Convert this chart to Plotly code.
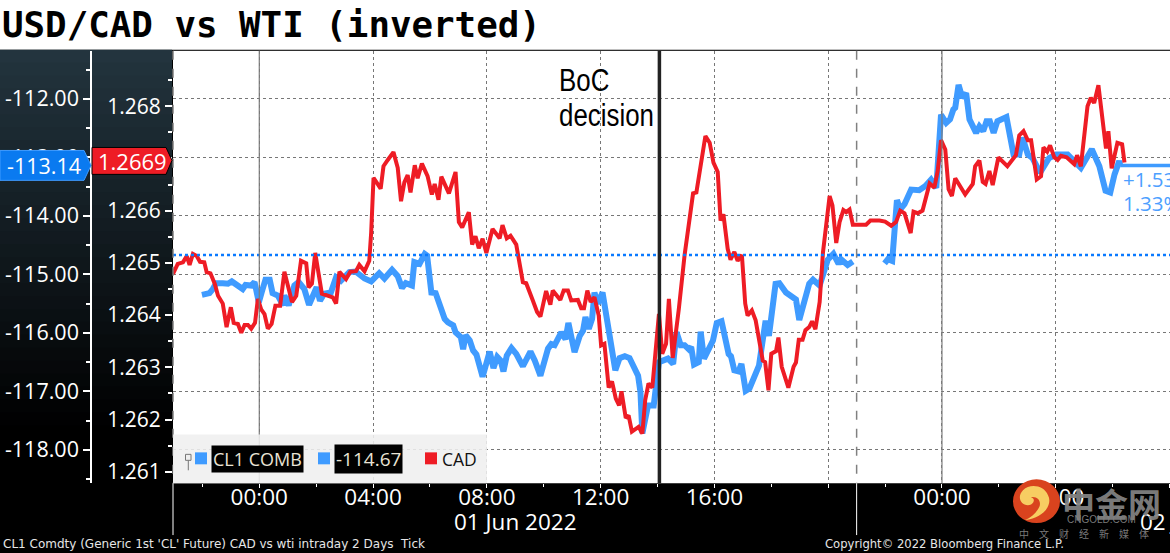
import pandas as pd
import plotly.graph_objects as go

W, H = 1170, 553
DAY0 = pd.Timestamp("2022-06-01")

# minutes from 00:00 on 01 Jun
cad_minutes = [-182, -172, -161, -153, -147, -140, -132, -125, -116, -111, -103, -94, -87, -77, -69, -60, -54, -45, -38, -31, -24, -17, -9, -3, 4, 11, 18, 26, 34, 44, 53, 69, 78, 88, 99, 104, 111, 118, 132, 148, 155, 162, 169, 183, 192, 204, 211, 222, 232, 236, 241, 256, 262, 271, 283, 292, 299, 306, 313, 319, 328, 334, 343, 355, 364, 370, 378, 384, 400, 414, 421, 428, 442, 449, 456, 463, 471, 479, 492, 507, 513, 522, 530, 542, 556, 563, 572, 577, 586, 593, 605, 614, 619, 635, 642, 651, 658, 672, 679, 685, 692, 699, 707, 716, 721, 728, 737, 744, 752, 759, 764, 773, 779, 786, 800, 808, 814, 821, 829, 843, 850, 858, 864, 872, 885, 897, 915, 922, 941, 950, 958, 967, 973, 979, 988, 994, 1002, 1009, 1018, 1025, 1030, 1039, 1047, 1062, 1067, 1074, 1080, 1090, 1095, 1102, 1116, 1127, 1132, 1138, 1146, 1152, 1160, 1166, 1173, 1182, 1189, 1203, 1209, 1217, 1224, 1232, 1238, 1245, 1252, 1280, 1289, 1308, 1320, 1333, 1343, 1352, 1361, 1374, 1380, 1389, 1399, 1414, 1424, 1431, 1438, 1447, 1454, 1461, 1468, 1478, 1489, 1505, 1510, 1519, 1526, 1532, 1540, 1547, 1559, 1578, 1596, 1603, 1612, 1621, 1628, 1640, 1649, 1654, 1662, 1668, 1677, 1684, 1691, 1703, 1719, 1725, 1733, 1747, 1754, 1761, 1770, 1786, 1791, 1798, 1810, 1820, 1825]
cad_values = [1.26479, 1.26498, 1.26501, 1.26513, 1.26496, 1.26517, 1.26513, 1.26502, 1.26501, 1.26482, 1.26480, 1.26460, 1.26437, 1.26422, 1.26377, 1.26415, 1.26385, 1.26383, 1.26366, 1.26381, 1.26381, 1.26374, 1.26385, 1.26431, 1.26411, 1.26402, 1.26374, 1.26383, 1.26418, 1.26418, 1.26483, 1.26425, 1.26437, 1.26504, 1.26499, 1.26453, 1.26460, 1.26519, 1.26441, 1.26436, 1.26434, 1.26422, 1.26483, 1.26469, 1.26483, 1.26484, 1.26496, 1.26484, 1.26504, 1.26558, 1.26663, 1.26642, 1.26685, 1.26697, 1.26712, 1.26682, 1.26618, 1.26654, 1.26668, 1.26635, 1.26687, 1.26662, 1.26690, 1.26666, 1.26631, 1.26651, 1.26621, 1.26665, 1.26633, 1.26674, 1.26578, 1.26568, 1.26597, 1.26535, 1.26551, 1.26528, 1.26546, 1.26519, 1.26565, 1.26547, 1.26572, 1.26547, 1.26552, 1.26535, 1.26463, 1.26461, 1.26436, 1.26428, 1.26406, 1.26397, 1.26446, 1.26420, 1.26447, 1.26429, 1.26447, 1.26447, 1.26428, 1.26429, 1.26413, 1.26413, 1.26447, 1.26425, 1.26434, 1.26399, 1.26342, 1.26345, 1.26261, 1.26273, 1.26240, 1.26227, 1.26254, 1.26203, 1.26208, 1.26177, 1.26186, 1.26173, 1.26237, 1.26269, 1.26261, 1.26402, 1.26326, 1.26345, 1.26431, 1.26318, 1.26412, 1.26514, 1.26633, 1.26635, 1.26743, 1.26730, 1.26692, 1.26674, 1.26581, 1.26593, 1.26527, 1.26506, 1.26521, 1.26504, 1.26515, 1.26422, 1.26399, 1.26409, 1.26390, 1.26313, 1.26310, 1.26256, 1.26326, 1.26331, 1.26357, 1.26301, 1.26261, 1.26301, 1.26309, 1.26353, 1.26353, 1.26371, 1.26377, 1.26388, 1.26373, 1.26425, 1.26520, 1.26628, 1.26610, 1.26538, 1.26578, 1.26601, 1.26597, 1.26602, 1.26573, 1.26573, 1.26581, 1.26581, 1.26579, 1.26571, 1.26578, 1.26600, 1.26595, 1.26557, 1.26598, 1.26595, 1.26600, 1.26652, 1.26644, 1.26676, 1.26735, 1.26717, 1.26641, 1.26628, 1.26662, 1.26647, 1.26631, 1.26651, 1.26685, 1.26696, 1.26655, 1.26651, 1.26676, 1.26649, 1.26702, 1.26685, 1.26706, 1.26744, 1.26752, 1.26735, 1.26735, 1.26660, 1.26666, 1.26721, 1.26713, 1.26725, 1.26702, 1.26697, 1.26705, 1.26702, 1.26689, 1.26706, 1.26685, 1.26800, 1.26816, 1.26806, 1.26840, 1.26719, 1.26752, 1.26681, 1.26730, 1.26727, 1.26692]

wti_minutes = [-121, -105, -98, -91, -77, -66, -58, -45, -35, -29, -17, -10, -1, 6, 13, 22, 28, 39, 50, 53, 62, 74, 83, 95, 105, 121, 128, 137, 151, 162, 172, 190, 203, 222, 236, 253, 264, 280, 292, 301, 309, 322, 327, 338, 349, 354, 358, 363, 372, 391, 398, 409, 414, 425, 430, 435, 444, 451, 458, 471, 486, 494, 502, 509, 515, 522, 532, 542, 556, 572, 581, 593, 609, 616, 623, 637, 646, 652, 665, 676, 683, 688, 695, 702, 707, 714, 724, 739, 751, 760, 771, 781, 790, 799, 804, 808, 820, 832, 843, 862, 873, 880, 889, 897, 906, 911, 917, 927, 931, 938, 957, 965, 975, 990, 995, 1002, 1011, 1017, 1026, 1034, 1054, 1059, 1068, 1075, 1089, 1097, 1111, 1132, 1139, 1160, 1168, 1182, 1199, 1211, 1222, 1227, 1241, 1252, 1285, 1319, 1326, 1335, 1345, 1352, 1361, 1375, 1392, 1405, 1417, 1428, 1438, 1449, 1457, 1464, 1468, 1475, 1483, 1491, 1498, 1512, 1519, 1527, 1534, 1541, 1549, 1557, 1576, 1591, 1603, 1610, 1621, 1631, 1647, 1666, 1681, 1705, 1733, 1756, 1772, 1785, 1795, 1804, 1814, 1816]
wti_values = [-115.35, -115.32, -115.25, -115.15, -115.15, -115.16, -115.12, -115.19, -115.25, -115.18, -115.19, -115.13, -115.48, -115.28, -115.09, -115.09, -115.32, -115.36, -115.53, -115.36, -115.53, -115.19, -115.13, -115.25, -115.52, -115.22, -115.45, -115.33, -115.31, -115.05, -115.11, -114.96, -114.95, -115.07, -115.12, -114.98, -115.07, -114.92, -115.03, -115.23, -115.15, -115.19, -114.79, -114.82, -114.65, -114.68, -115.08, -115.31, -115.32, -115.76, -115.82, -115.87, -115.99, -116.07, -116.28, -116.04, -116.13, -116.30, -116.37, -116.75, -116.32, -116.60, -116.41, -116.47, -116.66, -116.39, -116.26, -116.36, -116.57, -116.32, -116.47, -116.73, -116.27, -116.19, -116.21, -115.99, -116.11, -115.83, -116.33, -116.05, -115.96, -115.73, -115.93, -115.76, -115.31, -115.50, -115.31, -115.99, -116.64, -116.43, -116.40, -116.43, -116.61, -116.73, -117.01, -117.72, -117.24, -117.24, -116.50, -116.44, -116.53, -115.99, -116.21, -116.21, -116.28, -116.24, -116.54, -116.50, -115.98, -116.44, -116.13, -115.83, -115.80, -116.36, -116.40, -116.64, -116.66, -116.53, -116.99, -116.95, -116.56, -116.30, -115.79, -116.05, -115.16, -115.15, -115.31, -115.43, -115.78, -115.16, -115.09, -115.19, -114.75, -114.65, -114.82, -114.74, -114.84, -114.78, None, -114.81, -114.74, -114.77, -113.73, -113.89, -113.80, -113.55, -113.56, -113.49, -113.38, -113.52, -112.27, -112.41, -112.35, -112.18, -112.15, -111.76, -111.98, -111.90, -112.35, -112.58, -112.47, -112.55, -112.38, -112.38, -112.58, -112.38, -112.31, -112.95, -112.95, -112.66, -112.95, -113.01, -113.26, -113.01, -112.95, -112.95, -113.18, -112.86, -113.15, -113.57, -113.60, -113.29, -113.06, -113.14]

wti_prev_close = -114.67
wti_ticks = [-112, -113, -114, -115, -116, -117, -118]
wti_minor = [-111.5, -112.5, -113.5, -114.5, -115.5, -116.5, -117.5, -118.5]
cad_ticks = [1.268, 1.267, 1.266, 1.265, 1.264, 1.263, 1.262, 1.261]
cad_minor = [1.2685, 1.2675, 1.2665, 1.2655, 1.2645, 1.2635, 1.2625, 1.2615]
hour_ticks = [0, 240, 480, 720, 960, 1200, 1440, 1680, 1920]
hour_labels = ["00:00", "04:00", "08:00", "12:00", "16:00", "", "00:00", "04:00", "08:00"]
hour_minor = [-120, 120, 360, 600, 840, 1080, 1320, 1560, 1800]

BLUE = "#3f9bff"
RED = "#ee1c25"
LABEL_FONT = "Open Sans"
WATERMARK = "rgba(130,130,130,0.95)"


def ts(minutes):
    return DAY0 + pd.to_timedelta(minutes, unit="min")


def iso(minutes):
    return [str(ts(m)) for m in minutes]


def rect(x0, y0, x1, y1, fill, layer="above", opacity=1):
    return dict(type="rect", xref="paper", yref="paper", x0=x0 / W, x1=x1 / W,
                y0=1 - y0 / H, y1=1 - y1 / H, fillcolor=fill, line_width=0,
                layer=layer, opacity=opacity)


def poly(points, fill, line="rgba(0,0,0,0)"):
    path = "M " + " L ".join(f"{x / W},{1 - y / H}" for x, y in points) + " Z"
    return dict(type="path", xref="paper", yref="paper", path=path, fillcolor=fill,
                line=dict(color=line, width=1), layer="above")


def vline(minute, color, width, dash="solid", y0=51, y1=485):
    return dict(type="line", xref="x", yref="paper", x0=str(ts(minute)), x1=str(ts(minute)),
                y0=1 - y0 / H, y1=1 - y1 / H, line=dict(color=color, width=width, dash=dash),
                layer="above")


def label(x, y, text, size, color="white", font=LABEL_FONT, anchor="left", **kw):
    return dict(xref="paper", yref="paper", x=x / W, y=1 - y / H, text=text, showarrow=False,
                xanchor=anchor, yanchor="middle", font=dict(family=font, size=size, color=color), **kw)


fig = go.Figure()
fig.add_trace(go.Scatter(x=ts(wti_minutes), y=wti_values, mode="lines", yaxis="y",
                         line=dict(color=BLUE, width=6), showlegend=False))
fig.add_trace(go.Scatter(x=iso([wti_minutes[-1], 1921]), y=[wti_values[-1], wti_values[-1]], mode="lines",
                         yaxis="y", line=dict(color=BLUE, width=3.5), showlegend=False))
fig.add_trace(go.Scatter(x=ts(cad_minutes), y=cad_values, mode="lines", yaxis="y2",
                         line=dict(color=RED, width=4), showlegend=False))

# title band and the two dark axis panels
shapes = [rect(0, 0, W, 50, "white", "below")]
bands = 30
for i in range(bands):
    f = i / (bands - 1)
    shade = (int(35 * (1 - f)), int(52 * (1 - f)), int(62 * (1 - f)))
    y0 = 50 + i * 13
    shapes.append(rect(0, y0, 172, y0 + 14, f"rgb{shade}", "below"))

shapes += [
    dict(type="line", xref="x", yref="y", x0=str(ts(-182)), x1=str(ts(1921)), y0=wti_prev_close, y1=wti_prev_close,
         line=dict(color="#0a7aff", width=2.5, dash="dot"), layer="above"),
    dict(type="line", xref="paper", yref="paper", x0=173 / W, x1=173 / W, y0=1 - 51 / H, y1=1 - 485 / H,
         line=dict(color="#808080", width=1.5, dash="dash"), layer="above"),
    vline(0, "#7c7c7c", 1.2),
    vline(1440, "#7c7c7c", 1.2),
    vline(1260, "#808080", 1.5, "dash"),
    vline(844, "#222222", 3.5),
    dict(type="line", xref="paper", yref="paper", x0=173 / W, x1=173 / W, y0=1 - 485 / H, y1=1 - 537 / H,
         line=dict(color="white", width=1), layer="above"),
    vline(1260, "white", 1, y0=485, y1=537),
    # legend box
    rect(173, 436, 487, 485, "#efefef", opacity=0.88),
    rect(195, 454, 207, 466, BLUE),
    rect(318, 454, 330, 466, BLUE),
    rect(425, 454, 437, 466, RED),
    rect(185.5, 456, 191, 462, "#efefef"),
    dict(type="rect", xref="paper", yref="paper", x0=185.5 / W, x1=191 / W, y0=1 - 456 / H, y1=1 - 462 / H,
         line=dict(color="#777777", width=1), layer="above"),
    dict(type="line", xref="paper", yref="paper", x0=188.3 / W, x1=188.3 / W, y0=1 - 462 / H, y1=1 - 472 / H,
         line=dict(color="#777777", width=1), layer="above"),
    # last value tags
    poly([(0, 151), (84, 151), (91, 166), (84, 181), (0, 181)], "#0a7af0", BLUE),
    poly([(92, 148), (166, 148), (172, 161), (166, 175), (92, 175)], RED, "black"),
    # watermark logo
    dict(type="circle", xref="paper", yref="paper", x0=1013 / W, x1=1060 / W, y0=1 - 481 / H, y1=1 - 525 / H,
         fillcolor="#d9431e", line_width=0, layer="above"),
    dict(type="path", xref="paper", yref="paper", fillcolor="#f7cd62", line_width=0, layer="above",
         path=" ".join(
             f"{c} " + " ".join(f"{x / W},{1 - y / H}" for x, y in pts)
             for c, pts in [("M", [(1025, 522)]),
                            ("C", [(1044, 520), (1053, 506), (1048, 497)]),
                            ("C", [(1044, 487), (1030, 485), (1023, 492)]),
                            ("C", [(1017, 498), (1020, 507), (1028, 507)]),
                            ("C", [(1034, 507), (1036, 500), (1031, 499)]),
                            ("C", [(1040, 498), (1042, 506), (1038, 511)]),
                            ("C", [(1035, 516), (1030, 520), (1025, 522)])])),
]

annotations = [
    label(0, 25, "<b>USD/CAD vs WTI (inverted)</b>", 35.8, "black", "DejaVu Sans Mono"),
    label(557, 81, "BoC", 31, "black", "Liberation Sans"),
    label(557, 116, "decision", 31, "black", "Liberation Sans"),
    label(5, 166, "-113.14", 21.5),
    label(96, 162, "1.2669", 22),
    label(1121, 180, "+1.53", 20.5, "#4d9fff"),
    label(1121, 204, "1.33%", 20.5, "#4d9fff"),
    label(211, 461, "CL1 COMB", 18, "#e9e3d5", bgcolor="black", borderpad=1),
    label(334, 461, "-114.67", 19, "#e9e3d5", bgcolor="black", borderpad=1),
    label(440, 461, "CAD", 17.5, "#111111"),
    label(515, 523, "01 Jun 2022", 22.5, anchor="center"),
    label(1138, 523, "02 Jun 2022", 22.5),
    label(1, 546, "CL1 Comdty (Generic 1st 'CL' Future) CAD vs wti intraday 2 Days  Tick", 12, "#e6e6e6", "DejaVu Sans"),
    label(823, 546, "Copyright© 2022 Bloomberg Finance L.P.", 11.6, "#e6e6e6", "DejaVu Sans"),
    # watermark text
    label(1060, 505, "<b>中金网</b>", 33, WATERMARK, "Noto Sans CJK SC"),
    label(1065, 521, "CNGOLD.COM", 10, WATERMARK, "Liberation Sans"),
    label(1017, 535, "中　文　财　经　新　媒　体", 10, WATERMARK, "Noto Sans CJK SC"),
]

fig.update_layout(
    width=W,
    height=H,
    margin=dict(l=0, r=0, t=0, b=0),
    paper_bgcolor="black",
    plot_bgcolor="white",
    showlegend=False,
    shapes=shapes,
    annotations=annotations,
    xaxis=dict(
        type="date",
        domain=[173 / W, 1],
        range=[str(ts(-182)), str(ts(1921))],
        tickmode="array",
        tickvals=iso(hour_ticks),
        ticktext=hour_labels,
        ticks="outside",
        ticklen=4,
        tickcolor="white",
        ticklabelstandoff=-10,
        tickfont=dict(family=LABEL_FONT, size=22.5, color="white"),
        showgrid=True,
        gridcolor="#777777",
        griddash="dot",
        zeroline=False,
        minor=dict(tickmode="array", tickvals=iso(hour_minor), ticks="outside", ticklen=3,
                   tickcolor="white", showgrid=False),
    ),
    yaxis=dict(
        domain=[1 - 485 / H, 1 - 51 / H],
        range=[-118.571, -111.177],
        anchor="free",
        position=91 / W,
        side="left",
        tickmode="array",
        tickvals=wti_ticks,
        ticktext=[f"{v:.2f}" for v in wti_ticks],
        ticks="outside",
        ticklen=7,
        tickwidth=2,
        tickcolor="white",
        tickfont=dict(family=LABEL_FONT, size=21.5, color="white"),
        showline=True,
        linecolor="white",
        linewidth=1.5,
        showgrid=True,
        gridcolor="#777777",
        griddash="dot",
        zeroline=False,
        minor=dict(tickmode="array", tickvals=wti_minor, ticks="outside", ticklen=4,
                   tickcolor="white", showgrid=False),
    ),
    yaxis2=dict(
        overlaying="y",
        range=[1.26078, 1.26906],
        anchor="free",
        position=172 / W,
        side="left",
        tickmode="array",
        tickvals=cad_ticks,
        ticktext=[f"{v:.3f}" for v in cad_ticks],
        ticks="outside",
        ticklen=7,
        tickwidth=2,
        tickcolor="white",
        tickfont=dict(family=LABEL_FONT, size=21, color="white"),
        showgrid=False,
        zeroline=False,
        minor=dict(tickmode="array", tickvals=cad_minor, ticks="outside", ticklen=4,
                   tickcolor="white", showgrid=False),
    ),
)

# the BoC note uses a condensed face in the original, squeeze it sideways
post = """
document.body.style.margin='0';document.body.style.overflow='hidden';
document.querySelectorAll('.annotation-text').forEach(function(t){
  if(t.textContent==='BoC'||t.textContent==='decision'){
    var x=t.getBBox().x;
    t.setAttribute('transform','translate('+x+',0) scale(0.835,1) translate('+(-x)+',0)');
  }
});
"""
fig.write_html("out.html", config={"displayModeBar": False}, post_script=post)
